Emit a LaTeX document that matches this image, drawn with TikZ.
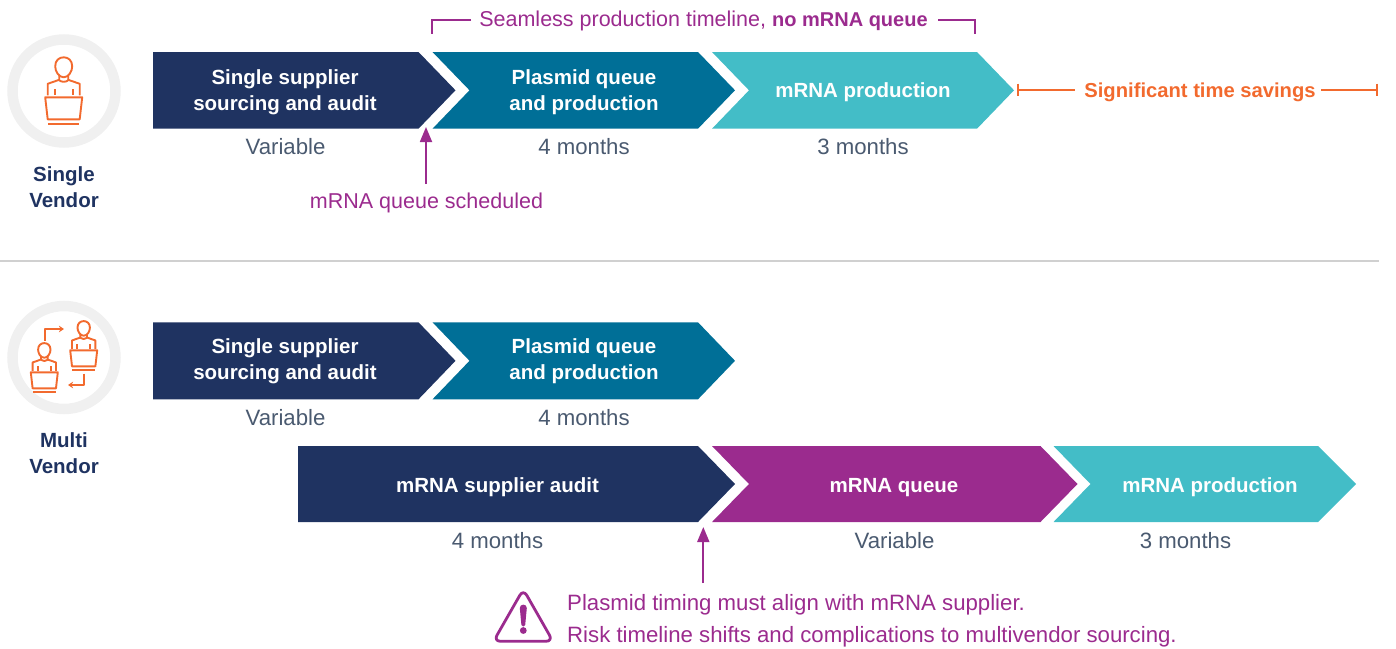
\documentclass[tikz,border=0pt]{standalone}
\usepackage{fontspec}
\setmainfont{Liberation Sans}
\usetikzlibrary{arrows.meta}
\definecolor{navy}{HTML}{1F3361}
\definecolor{tealc}{HTML}{006F97}
\definecolor{cyanc}{HTML}{43BDC7}
\definecolor{purp}{HTML}{9B2B8E}
\definecolor{orng}{HTML}{F26A2E}
\definecolor{greyt}{HTML}{4A5A70}
\definecolor{rule}{HTML}{D0D0D0}
\definecolor{ring}{HTML}{F0F0F0}
\tikzset{
  lbl/.style={anchor=base,inner sep=0pt,align=center},
  boxt/.style={lbl,text=white,font=\fontsize{20.5}{26}\selectfont\bfseries},
  dur/.style={lbl,text=greyt,font=\fontsize{22.2}{26}\selectfont},
  side/.style={lbl,text=navy,font=\fontsize{20.5}{26}\selectfont\bfseries},
  purt/.style={lbl,text=purp,font=\fontsize{21.5}{26}\selectfont},
  purlong/.style={lbl,text=purp,font=\fontsize{22.2}{26}\selectfont},
  purline/.style={draw=purp,line width=1.8pt},
  ornline/.style={draw=orng,line width=2pt},
  uparrow/.style={purline,-{Triangle[length=15pt,width=12pt]}},
  icon/.style={draw=orng,line width=1.9pt,line join=round},
  person/.pic={
    \draw[icon] (-8.5,-31) .. controls (-8.5,-37) and (-4.5,-40) .. (0,-40)
       .. controls (4.5,-40) and (8.5,-37) .. (8.5,-31)
       .. controls (8.5,-26) and (5,-20) .. (0,-20)
       .. controls (-5,-20) and (-8.5,-26) .. (-8.5,-31) -- cycle;
    \draw[icon] (-4.5,-22) -- (-4.5,-17.5) -- (-16,-13.5) -- (-16,-2);
    \draw[icon] (4.5,-22) -- (4.5,-17.5) -- (16,-13.5) -- (16,-2);
    \draw[icon] (-4.5,-17) .. controls (-2,-15) and (2,-15) .. (4.5,-17);
    \draw[icon] (-9,-8) -- (-9,-2) (9,-8) -- (9,-2);
    \draw[icon] (-18.5,0) -- (18.5,0) -- (16,22) -- (-16,22) -- cycle;
    \draw[icon] (-15.5,26.5) -- (15.5,26.5);
  }
}
\begin{document}
\begin{tikzpicture}[x=1pt,y=-1pt]
\useasboundingbox (0,0) rectangle (1396,648);
% icons
\draw[ring,line width=10.5pt] (64,91) circle[radius=51.5];
\draw[ring,line width=10.5pt] (64,357.5) circle[radius=51.5];
\pic at (63.7,97.3) {person};
\pic[scale=0.73] at (44.3,372.3) {person};
\pic[scale=0.73] at (83.7,350.3) {person};
\draw[icon,-{Stealth[length=5pt,width=6.5pt]}] (44.7,340.5) -- (44.7,329) -- (64,329);
\draw[icon,-{Stealth[length=5pt,width=6.5pt]}] (84.3,373.5) -- (84.3,385) -- (68,385);
% chevrons row 1
\fill[navy] (153,52) -- (418.5,52) -- (455.5,90.3) -- (418.5,128.7) -- (153,128.7) -- cycle;
\fill[tealc] (432.5,52) -- (698,52) -- (735,90.3) -- (698,128.7) -- (432.5,128.7) -- (469.5,90.3) -- cycle;
\fill[cyanc] (712,52) -- (977,52) -- (1014,90.3) -- (977,128.7) -- (712,128.7) -- (749,90.3) -- cycle;
% chevrons row 2
\fill[navy] (153,322.3) -- (418.5,322.3) -- (455.5,360.8) -- (418.5,399.3) -- (153,399.3) -- cycle;
\fill[tealc] (432.5,322.3) -- (698,322.3) -- (735,360.8) -- (698,399.3) -- (432.5,399.3) -- (469.5,360.8) -- cycle;
% chevrons row 3
\fill[navy] (298,446) -- (698,446) -- (735,484) -- (698,522) -- (298,522) -- cycle;
\fill[purp] (712,446) -- (1040.5,446) -- (1077.5,484) -- (1040.5,522) -- (712,522) -- (749,484) -- cycle;
\fill[cyanc] (1053.5,446) -- (1318,446) -- (1356,484) -- (1318,522) -- (1053.5,522) -- (1090.5,484) -- cycle;
% divider
\draw[rule,line width=1.1pt] (0,261) -- (1379,261);
% row 1 text
\node[boxt] (a1) at (285,84) {Single supplier};
\node[boxt] (a2) at (285,110) {sourcing and audit};
\node[boxt] (b1) at (584,84) {Plasmid queue};
\node[boxt] (b2) at (584,110) {and production};
\node[boxt] (c1) at (863,97) {mRNA production};
\node[dur] (d1) at (285.5,154) {Variable};
\node[dur] (d2) at (584,154) {4 months};
\node[dur] (d3) at (863,154) {3 months};
\node[side] (s1) at (64,181.5) {Single};
\node[side] (s2) at (64,207.5) {Vendor};
\node[purt] (q) at (426.5,208) {mRNA queue scheduled};
\node[purt] (top) at (703.5,26) {Seamless production timeline, {\fontsize{20}{26}\selectfont\bfseries no mRNA queue}};
\node[lbl,text=orng,font=\fontsize{20.2}{26}\selectfont\bfseries] (sv) at (1200,97) {Significant time savings};
% row 2 text
\node[boxt] (e1) at (285,353) {Single supplier};
\node[boxt] (e2) at (285,379) {sourcing and audit};
\node[boxt] (f1) at (584,353) {Plasmid queue};
\node[boxt] (f2) at (584,379) {and production};
\node[dur] (d4) at (285.5,425) {Variable};
\node[dur] (d5) at (584,425) {4 months};
\node[side] (m1) at (64,447) {Multi};
\node[side] (m2) at (64,473) {Vendor};
% row 3 text
\node[boxt] (g1) at (497.5,492) {mRNA supplier audit};
\node[boxt] (g2) at (894,492) {mRNA queue};
\node[boxt] (g3) at (1210,492) {mRNA production};
\node[dur] (d6) at (497.5,548) {4 months};
\node[dur] (d7) at (894.5,548) {Variable};
\node[dur] (d8) at (1185.5,548) {3 months};
\node[purlong,anchor=base west] (w1) at (567,610) {Plasmid timing must align with mRNA supplier.};
\node[purlong,anchor=base west] (w2) at (567,642) {Risk timeline shifts and complications to multivendor sourcing.};
% connectors
\coordinate (ar1) at (426,127);
\coordinate (ar1s) at (426,184);
\draw[uparrow] (ar1s) -- (ar1);
\coordinate (ar2) at (703.3,527);
\coordinate (ar2s) at (703.3,583);
\draw[uparrow] (ar2s) -- (ar2);
\coordinate (bl) at (432,34);
\coordinate (br) at (975.3,34);
\draw[purline] (471,20) -- (432,20) -- (bl);
\draw[purline] (938,20) -- (975.3,20) -- (br);
\coordinate (tl) at (1018,89.5);
\coordinate (tr) at (1377,89.5);
\draw[ornline] (sv.west |- tl) ++(-9.5,0) -- (tl);
\draw[ornline] (sv.east |- tr) ++(5.5,0) -- (tr);
\draw[orng,line width=2.6pt] (1018,83.5) -- (1018,95.5);
\draw[orng,line width=2.6pt] (1377,83.5) -- (1377,95.5);
% warning icon
\draw[purp,line width=2.8pt,line join=round,rounded corners=7pt] (523.3,589.2) -- (493.5,641.3) -- (553,641.3) -- cycle;
\fill[purp] (519.8,608) .. controls (519.8,603.5) and (526.8,603.5) .. (526.8,608) -- (525.2,625) .. controls (524.9,627) and (521.7,627) .. (521.4,625) -- cycle;
\fill[purp] (523.3,630.5) circle[radius=3.4];
\end{tikzpicture}
\end{document}
